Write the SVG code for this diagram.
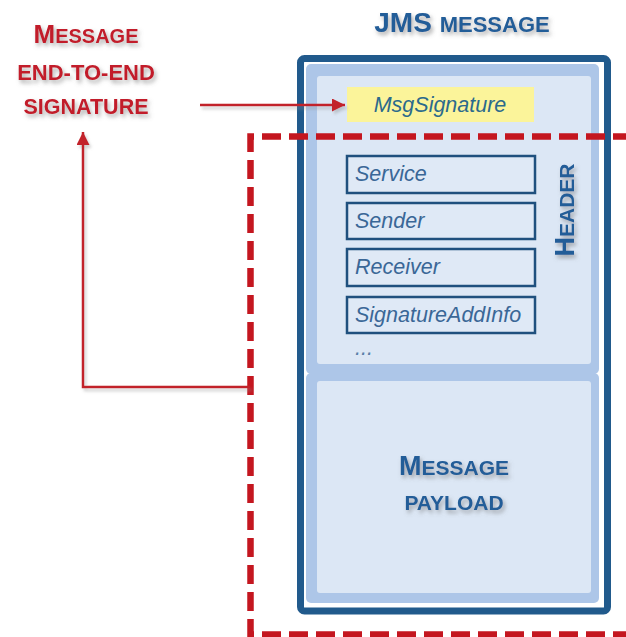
<svg xmlns="http://www.w3.org/2000/svg" width="626" height="637" viewBox="0 0 626 637">
  <defs>
    <filter id="shadow" x="-20%" y="-30%" width="140%" height="160%">
      <feDropShadow dx="2" dy="3" stdDeviation="2" flood-color="#6b6b6b" flood-opacity="0.55"/>
    </filter>
    <filter id="lshadow" x="-10%" y="-10%" width="120%" height="120%">
      <feDropShadow dx="2" dy="3" stdDeviation="1.5" flood-color="#8a8a8a" flood-opacity="0.4"/>
    </filter>
    <marker id="arrow" markerUnits="userSpaceOnUse" markerWidth="14" markerHeight="13" refX="13" refY="6.5" orient="auto">
      <path d="M0,0 L13,6.5 L0,13 Z" fill="#c2202b"/>
    </marker>
  </defs>
  <style>
    .red { font-family: "Liberation Sans", Arial, sans-serif; font-weight: bold; fill: #c21d2b; }
    .blue { font-family: "Liberation Sans", Arial, sans-serif; font-weight: bold; fill: #235d98; }
    .field { fill: #dfe9f6; stroke: #1f507e; stroke-width: 2.5; }
    .ftext { font-family: "Liberation Sans", Arial, sans-serif; font-style: italic; font-size: 21.5px; fill: #3a6797; }
    .panel { fill: #adc6e8; }
    .light { fill: #dce7f5; }
    .conn { fill: none; stroke: #c2202b; stroke-width: 2.5; }
  </style>

  <g id="title-signature" filter="url(#shadow)">
    <text class="red" x="86" y="43" text-anchor="middle"><tspan font-size="26">M</tspan><tspan font-size="20">ESSAGE</tspan></text>
    <text class="red" x="86" y="80" text-anchor="middle" font-size="22">END-TO-END</text>
    <text class="red" x="86" y="114" text-anchor="middle" font-size="21.5">SIGNATURE</text>
  </g>

  <g id="title-jms" filter="url(#shadow)">
    <text class="blue" x="462" y="32" text-anchor="middle"><tspan font-size="28">JMS </tspan><tspan font-size="22">MESSAGE</tspan></text>
  </g>

  <g id="jms-message">
    <rect x="300.5" y="58.5" width="307" height="552.5" rx="4" fill="#ffffff" stroke="#215a8c" stroke-width="7"/>
  </g>

  <g id="header">
    <rect class="panel" x="306" y="64" width="293" height="310" rx="5"/>
    <rect class="light" x="317" y="76" width="274" height="288" rx="3"/>
    <g filter="url(#shadow)">
      <text class="blue" transform="translate(574,210) rotate(-90)" text-anchor="middle"><tspan font-size="27">H</tspan><tspan font-size="21">EADER</tspan></text>
    </g>
  </g>

  <g id="msgsignature">
    <rect x="347" y="87" width="187" height="35" fill="#fbf49a"/>
    <text class="ftext" x="440" y="112" text-anchor="middle" font-size="22" fill="#2b6a8c" style="fill:#2b6a8c">MsgSignature</text>
  </g>

  <g id="service">
    <rect class="field" x="347" y="156" width="188" height="37"/>
    <text class="ftext" x="355" y="181">Service</text>
  </g>
  <g id="sender">
    <rect class="field" x="347" y="203" width="188" height="36"/>
    <text class="ftext" x="355" y="228">Sender</text>
  </g>
  <g id="receiver">
    <rect class="field" x="347" y="249" width="188" height="37"/>
    <text class="ftext" x="355" y="274">Receiver</text>
  </g>
  <g id="signatureaddinfo">
    <rect class="field" x="347" y="297" width="188" height="36"/>
    <text class="ftext" x="355" y="322">SignatureAddInfo</text>
  </g>
  <g id="ellipsis">
    <text class="ftext" x="355" y="355" font-size="18" style="fill:#5a7fa8">...</text>
  </g>

  <g id="payload">
    <rect class="panel" x="306" y="373" width="293" height="230" rx="5"/>
    <rect class="light" x="317" y="381" width="274" height="212" rx="3"/>
    <g filter="url(#shadow)">
      <text class="blue" x="454" y="475" text-anchor="middle"><tspan font-size="27">M</tspan><tspan font-size="21">ESSAGE</tspan></text>
      <text class="blue" x="454" y="510" text-anchor="middle" font-size="21">PAYLOAD</text>
    </g>
  </g>

  <g id="connectors">
    <path id="signed-region" d="M632,136.5 H250.5 V634.5 H632" fill="none" stroke="#c4161f" stroke-width="6.5" stroke-dasharray="19 8"/>
    <g filter="url(#lshadow)">
      <path class="conn" d="M200,105 H345" marker-end="url(#arrow)"/>
      <path class="conn" d="M250,387 H83 V132" marker-end="url(#arrow)"/>
    </g>
  </g>
</svg>
